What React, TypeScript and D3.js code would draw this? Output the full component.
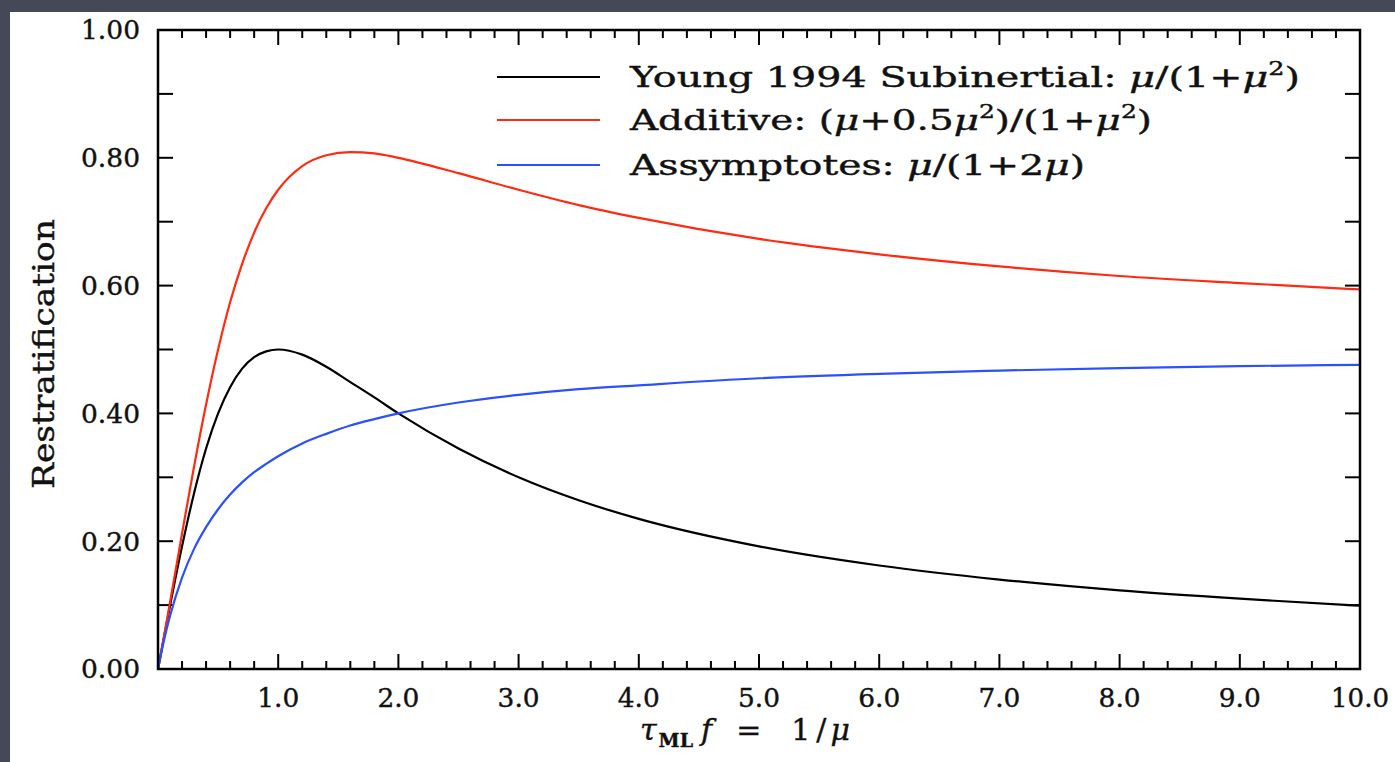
import React from "react";
import * as d3 from "d3";

const muValues = [0, 0.05, 0.1, 0.2, 0.3, 0.4, 0.5, 0.6, 0.7, 0.8, 0.9, 1.0, 1.2, 1.4, 1.6, 1.8, 2.0, 2.5, 3.0, 3.5, 4.0, 5.0, 6.0, 7.0, 8.0, 9.0, 10.0];
const youngValues = [0, 0.050, 0.099, 0.192, 0.275, 0.345, 0.400, 0.441, 0.470, 0.488, 0.497, 0.500, 0.492, 0.473, 0.449, 0.425, 0.400, 0.345, 0.300, 0.264, 0.235, 0.192, 0.162, 0.140, 0.123, 0.110, 0.099];
const additiveValues = [0, 0.051, 0.104, 0.212, 0.317, 0.414, 0.500, 0.574, 0.634, 0.683, 0.721, 0.750, 0.787, 0.804, 0.809, 0.807, 0.800, 0.776, 0.750, 0.726, 0.706, 0.673, 0.649, 0.630, 0.615, 0.604, 0.594];
const asymptoteValues = [0, 0.045, 0.083, 0.143, 0.188, 0.222, 0.250, 0.273, 0.292, 0.308, 0.321, 0.333, 0.353, 0.368, 0.381, 0.391, 0.400, 0.417, 0.429, 0.438, 0.444, 0.455, 0.462, 0.467, 0.471, 0.474, 0.476];

const xTickLabels = ["1.0", "2.0", "3.0", "4.0", "5.0", "6.0", "7.0", "8.0", "9.0", "10.0"];
const yTickLabels = ["0.00", "0.20", "0.40", "0.60", "0.80", "1.00"];

const W = 1395;
const H = 762;
const left = 158, right = 1360, top = 30, bottom = 669;
const FONT = "'DejaVu Serif', serif";

export default function App() {
  const x = d3.scaleLinear().domain([0, 10]).range([left, right]);
  const y = d3.scaleLinear().domain([0, 1]).range([bottom, top]);
  const line = d3
    .line<number>()
    .x((_, i) => x(muValues[i]))
    .y((d) => y(d))
    .curve(d3.curveMonotoneX);

  const xMinor = d3.range(1, 50).map((i) => i * 0.2);
  const yTicks = d3.range(1, 10).map((i) => i * 0.1);

  const series = [
    { values: youngValues, color: "#000000" },
    { values: additiveValues, color: "#ff2a10" },
    { values: asymptoteValues, color: "#2a50ff" },
  ];

  const legendY = [77, 120, 165];

  return (
    <svg width={W} height={H} style={{ position: "absolute", left: 0, top: 0 }} fontFamily={FONT}>
      <rect x={0} y={0} width={W} height={H} fill="#454957" />
      <rect x={10} y={12} width={W} height={H} fill="#ffffff" />

      {xMinor.map((v, i) => {
        const major = Math.abs(v - Math.round(v)) < 1e-6;
        const len = major ? 15 : 8;
        return (
          <g key={"xt" + i} stroke="#000" strokeWidth={2}>
            <line x1={x(v)} x2={x(v)} y1={bottom} y2={bottom - len} />
            <line x1={x(v)} x2={x(v)} y1={top} y2={top + len} />
          </g>
        );
      })}
      {yTicks.map((v, i) => (
        <g key={"yt" + i} stroke="#000" strokeWidth={2}>
          <line x1={left} x2={left + 15} y1={y(v)} y2={y(v)} />
          <line x1={right} x2={right - 15} y1={y(v)} y2={y(v)} />
        </g>
      ))}

      {series.map((s, i) => (
        <path key={"s" + i} d={line(s.values) || ""} fill="none" stroke={s.color} strokeWidth={2.2} />
      ))}

      <rect x={left} y={top} width={right - left} height={bottom - top} fill="none" stroke="#000" strokeWidth={2.5} />

      <g stroke="#111" strokeWidth={0.4}>
        {yTickLabels.map((t, i) => (
          <text key={"yl" + i} x={140} y={y(+t)} dy="0.36em" textAnchor="end" fontSize={26} fill="#111"
            textLength={59} lengthAdjust="spacingAndGlyphs">
            {t}
          </text>
        ))}
        {xTickLabels.map((t, i) => (
          <text key={"xl" + i} x={x(+t)} y={707} textAnchor="middle" fontSize={26} fill="#111"
            textLength={t.length === 4 ? 58 : 42} lengthAdjust="spacingAndGlyphs">
            {t}
          </text>
        ))}

        <text
          transform={`translate(54,354) rotate(-90)`}
          textAnchor="middle"
          fontSize={30}
          textLength={270}
          lengthAdjust="spacingAndGlyphs"
          fill="#111"
        >
          Restratification
        </text>
        <text x={640} y={740} fontSize={30} fill="#111">
          <tspan fontStyle="italic">τ</tspan>
          <tspan fontSize={19} fontWeight="bold" dy={7} dx={2}>ML</tspan>
          <tspan dy={-7} dx={8} fontStyle="italic">f</tspan>
          <tspan dx={24}>=</tspan>
          <tspan dx={30}>1</tspan>
          <tspan dx={6}>/</tspan>
          <tspan dx={4} fontStyle="italic">μ</tspan>
        </text>

        <text x={630} y={legendY[0] + 10} fontSize={28} fill="#111" textLength={670} lengthAdjust="spacingAndGlyphs">
          <tspan>Young 1994 Subinertial: </tspan>
          <tspan fontStyle="italic">μ</tspan>
          <tspan>/(1+</tspan>
          <tspan fontStyle="italic">μ</tspan>
          <tspan fontSize={18} dy={-12}>2</tspan>
          <tspan dy={12}>)</tspan>
        </text>
        <text x={630} y={legendY[1] + 10} fontSize={28} fill="#111" textLength={522} lengthAdjust="spacingAndGlyphs">
          <tspan>Additive: (</tspan>
          <tspan fontStyle="italic">μ</tspan>
          <tspan>+0.5</tspan>
          <tspan fontStyle="italic">μ</tspan>
          <tspan fontSize={18} dy={-12}>2</tspan>
          <tspan dy={12}>)/(1+</tspan>
          <tspan fontStyle="italic">μ</tspan>
          <tspan fontSize={18} dy={-12}>2</tspan>
          <tspan dy={12}>)</tspan>
        </text>
        <text x={630} y={legendY[2] + 10} fontSize={28} fill="#111" textLength={455} lengthAdjust="spacingAndGlyphs">
          <tspan>Assymptotes: </tspan>
          <tspan fontStyle="italic">μ</tspan>
          <tspan>/(1+2</tspan>
          <tspan fontStyle="italic">μ</tspan>
          <tspan>)</tspan>
        </text>
      </g>

      {series.map((s, i) => (
        <line key={"ll" + i} x1={497} x2={600} y1={legendY[i]} y2={legendY[i]} stroke={s.color} strokeWidth={2.2} />
      ))}
    </svg>
  );
}
